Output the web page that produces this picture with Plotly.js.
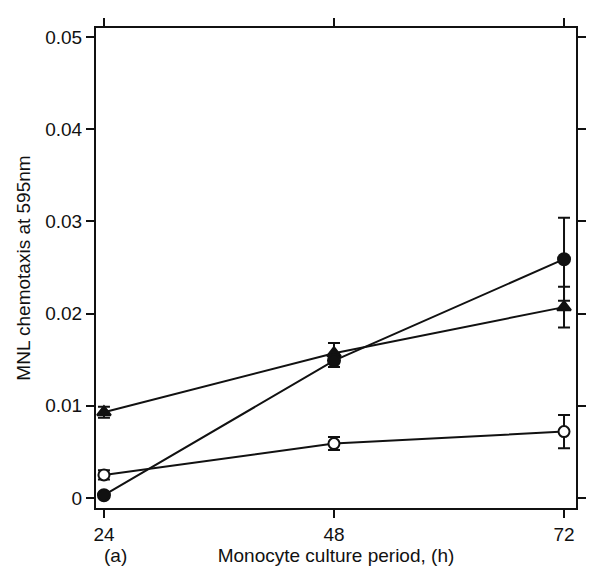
<!DOCTYPE html>
<html><head><meta charset="utf-8">
<script src="https://cdn.plot.ly/plotly-3.0.1.min.js"></script>
<style>html,body{margin:0;padding:0;background:#fff}</style>
</head><body><div id="chart" style="width:589px;height:576px"></div>
<script>
const hours = [24, 48, 72];
const filledCircle = [0.0003, 0.0149, 0.0259];
const filledCircleErr = [0.0003, 0.0007, 0.0045];
const triangle = [0.0093, 0.0157, 0.0207];
const triangleErr = [0.0006, 0.0011, 0.0022];
const openCircle = [0.0025, 0.0059, 0.0072];
const openCircleErr = [0.0005, 0.0007, 0.0018];
const yTickVals = [0, 0.01, 0.02, 0.03, 0.04, 0.05];
const yTickText = ['0', '0.01', '0.02', '0.03', '0.04', '0.05'];
const xTickText = ['24', '48', '72'];

const font = {family: 'Liberation Sans, Arial, sans-serif', color: '#111', size: 19};
function tr(y, err, symbol, fill, size) {
  return {
    x: hours, y: y, type: 'scatter', mode: 'lines+markers',
    line: {color: '#111', width: 2},
    marker: {symbol: symbol, size: size, color: fill, line: {color: '#111', width: 2}},
    error_y: {type: 'data', array: err, visible: true, color: '#111', thickness: 2, width: 6},
    cliponaxis: false, showlegend: false
  };
}
const data = [
  tr(openCircle, openCircleErr, 'circle', '#fff', 11),
  tr(triangle, triangleErr, 'triangle-up', '#111', 12),
  tr(filledCircle, filledCircleErr, 'circle', '#111', 12)
];
const layout = {
  width: 589, height: 576,
  margin: {l: 96, r: 13, t: 28, b: 68},
  paper_bgcolor: '#fff', plot_bgcolor: '#fff',
  font: font,
  xaxis: {
    range: [23.17, 73.25], tickvals: hours, ticktext: xTickText,
    showgrid: false, zeroline: false, showline: true, linecolor: '#111', linewidth: 2,
    mirror: 'ticks', ticks: 'outside', ticklen: 8, tickwidth: 2, tickcolor: '#111',
    tickfont: font,
    title: {text: 'Monocyte culture period, (h)', font: font, standoff: 0}
  },
  yaxis: {
    range: [-0.00109, 0.05098], tickvals: yTickVals, ticktext: yTickText,
    showgrid: false, zeroline: false, showline: true, linecolor: '#111', linewidth: 2,
    mirror: 'ticks', ticks: 'outside', ticklen: 8, tickwidth: 2, tickcolor: '#111',
    tickfont: font,
    title: {text: 'MNL chemotaxis at 595nm', font: font, standoff: 10}
  },
  annotations: [{
    text: '(a)', xref: 'paper', yref: 'paper', x: 0.04, y: -0.098,
    xanchor: 'center', yanchor: 'middle', showarrow: false, font: font
  }]
};
Plotly.newPlot('chart', data, layout, {displayModeBar: false, staticPlot: true});
</script></body></html>
